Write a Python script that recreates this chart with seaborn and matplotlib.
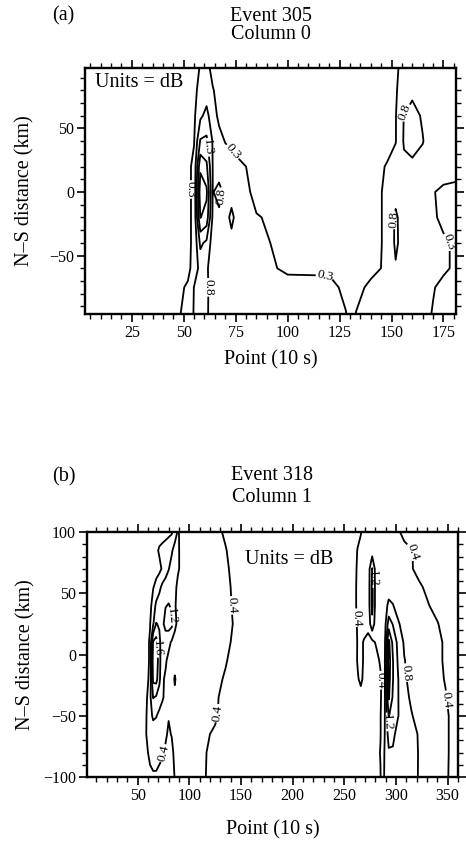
import numpy as np
import matplotlib
matplotlib.use("Agg")
import matplotlib.pyplot as plt
import seaborn as sns
from matplotlib.ticker import MultipleLocator

# ---------------- Panel (a): Event 305, Column 0 (values in dB) ----------------
x_a = [2.5, 45, 52, 55, 58, 61, 64, 67, 70, 73, 76, 85, 100, 120, 128, 130.5,
       133, 140, 148, 152, 156, 160, 165, 170, 175, 181]
y_a = [97.5, 80, 60, 40, 20, 0, -20, -40, -60, -75, -96]
z_a = [
    [0.05, 0.10, 0.15, 0.20, 0.32, 0.40, 0.20, 0.15, 0.12, 0.10, 0.10, 0.10, 0.10, 0.10, 0.10, 0.10, 0.10, 0.15, 0.20, 0.27, 0.36, 0.45, 0.50, 0.50, 0.45, 0.45],
    [0.05, 0.10, 0.15, 0.22, 0.40, 0.55, 0.32, 0.20, 0.15, 0.10, 0.10, 0.10, 0.10, 0.10, 0.10, 0.10, 0.10, 0.15, 0.22, 0.28, 0.40, 0.70, 0.62, 0.50, 0.45, 0.45],
    [0.05, 0.10, 0.15, 0.22, 0.70, 0.95, 0.50, 0.20, 0.15, 0.12, 0.10, 0.10, 0.10, 0.10, 0.10, 0.10, 0.10, 0.12, 0.20, 0.28, 0.82, 0.95, 0.75, 0.55, 0.50, 0.45],
    [0.05, 0.10, 0.20, 0.28, 1.35, 1.40, 0.75, 0.45, 0.28, 0.20, 0.15, 0.12, 0.10, 0.10, 0.10, 0.10, 0.10, 0.15, 0.22, 0.28, 0.85, 0.95, 0.82, 0.55, 0.50, 0.45],
    [0.05, 0.10, 0.20, 0.40, 2.20, 1.90, 0.78, 0.60, 0.55, 0.50, 0.38, 0.20, 0.10, 0.10, 0.10, 0.10, 0.12, 0.20, 0.32, 0.50, 0.70, 0.72, 0.65, 0.55, 0.50, 0.45],
    [0.05, 0.10, 0.20, 0.40, 2.60, 2.40, 0.78, 0.92, 0.70, 0.60, 0.50, 0.20, 0.10, 0.10, 0.12, 0.12, 0.12, 0.20, 0.35, 0.60, 0.60, 0.55, 0.45, 0.32, 0.22, 0.20],
    [0.05, 0.10, 0.20, 0.40, 2.32, 2.10, 0.70, 0.72, 0.60, 0.92, 0.60, 0.32, 0.20, 0.10, 0.12, 0.12, 0.12, 0.20, 0.35, 0.90, 0.50, 0.50, 0.45, 0.35, 0.22, 0.20],
    [0.05, 0.10, 0.20, 0.40, 1.40, 1.20, 0.55, 0.50, 0.50, 0.65, 0.55, 0.38, 0.20, 0.12, 0.12, 0.12, 0.12, 0.20, 0.35, 0.90, 0.55, 0.50, 0.45, 0.40, 0.35, 0.25],
    [0.05, 0.10, 0.20, 0.45, 1.00, 0.90, 0.45, 0.40, 0.40, 0.40, 0.40, 0.40, 0.25, 0.25, 0.20, 0.15, 0.15, 0.22, 0.35, 0.75, 0.50, 0.45, 0.45, 0.40, 0.35, 0.25],
    [0.05, 0.15, 0.35, 0.82, 0.95, 0.90, 0.55, 0.50, 0.45, 0.45, 0.45, 0.45, 0.40, 0.38, 0.24, 0.20, 0.22, 0.36, 0.40, 0.50, 0.45, 0.42, 0.40, 0.32, 0.22, 0.20],
    [0.05, 0.20, 0.40, 0.85, 0.95, 0.90, 0.50, 0.45, 0.45, 0.45, 0.45, 0.45, 0.42, 0.40, 0.31, 0.22, 0.31, 0.40, 0.42, 0.45, 0.45, 0.42, 0.40, 0.28, 0.20, 0.20],
]
levels_a = [0.3, 0.8, 1.3, 1.8, 2.3]

# ---------------- Panel (b): Event 318, Column 1 (values in dB) ----------------
x_b = [1, 50, 58, 62, 65, 68, 71, 74, 77, 80, 83, 86, 89, 95, 110, 125, 135, 145,
       200, 255, 260, 263, 266, 269, 273, 277, 281, 285, 289, 293, 297, 302, 308,
       315, 322, 330, 340, 348, 356, 360]
y_b = [100, 85, 70, 55, 40, 25, 10, -5, -20, -35, -50, -65, -80, -100]
z_b = [
    [0.10, 0.15, 0.15, 0.15, 0.20, 0.20, 0.22, 0.25, 0.28, 0.32, 0.35, 0.60, 0.85, 0.55, 0.55, 0.50, 0.35, 0.20, 0.15, 0.20,
     0.25, 0.30, 0.38, 0.50, 0.55, 0.55, 0.55, 0.55, 0.55, 0.55, 0.50, 0.45, 0.30, 0.20, 0.15, 0.15, 0.12, 0.12, 0.12, 0.12],
    [0.10, 0.15, 0.15, 0.20, 0.25, 0.32, 0.45, 0.50, 0.55, 0.60, 0.75, 0.95, 0.85, 0.60, 0.55, 0.50, 0.42, 0.25, 0.15, 0.20,
     0.30, 0.42, 0.50, 0.55, 0.55, 0.60, 0.55, 0.55, 0.55, 0.55, 0.55, 0.55, 0.50, 0.42, 0.30, 0.20, 0.15, 0.12, 0.12, 0.12],
    [0.10, 0.15, 0.20, 0.20, 0.25, 0.28, 0.30, 0.45, 0.60, 0.78, 0.95, 1.00, 0.85, 0.60, 0.55, 0.50, 0.45, 0.30, 0.15, 0.20,
     0.32, 0.45, 0.50, 0.55, 0.55, 1.22, 0.55, 0.55, 0.55, 0.55, 0.55, 0.55, 0.52, 0.42, 0.32, 0.22, 0.15, 0.12, 0.12, 0.12],
    [0.10, 0.15, 0.22, 0.30, 0.38, 0.50, 0.70, 0.90, 1.00, 1.05, 1.00, 0.90, 0.70, 0.58, 0.55, 0.50, 0.48, 0.32, 0.15, 0.22,
     0.35, 0.45, 0.50, 0.55, 0.55, 1.30, 0.55, 0.55, 0.55, 0.60, 0.60, 0.58, 0.55, 0.50, 0.45, 0.35, 0.22, 0.15, 0.12, 0.12],
    [0.10, 0.15, 0.22, 0.30, 0.55, 0.90, 1.00, 1.10, 1.18, 1.22, 1.15, 0.85, 0.65, 0.58, 0.55, 0.52, 0.50, 0.33, 0.15, 0.22,
     0.35, 0.45, 0.50, 0.55, 0.55, 1.30, 0.55, 0.55, 0.60, 0.90, 0.82, 0.65, 0.60, 0.55, 0.50, 0.43, 0.30, 0.20, 0.15, 0.15],
    [0.10, 0.15, 0.25, 0.38, 0.75, 1.22, 1.15, 1.10, 1.35, 1.38, 1.30, 0.90, 0.70, 0.60, 0.55, 0.55, 0.52, 0.35, 0.15, 0.22,
     0.35, 0.42, 0.50, 0.50, 0.50, 1.10, 0.50, 0.50, 0.60, 1.40, 1.18, 0.85, 0.65, 0.60, 0.55, 0.50, 0.42, 0.28, 0.18, 0.15],
    [0.10, 0.15, 0.25, 0.45, 1.65, 1.75, 1.30, 0.95, 0.95, 0.90, 0.75, 0.65, 0.60, 0.58, 0.55, 0.55, 0.50, 0.30, 0.15, 0.20,
     0.30, 0.42, 0.45, 0.38, 0.30, 0.30, 0.45, 0.50, 0.65, 2.10, 1.50, 1.10, 0.75, 0.60, 0.55, 0.50, 0.48, 0.35, 0.20, 0.18],
    [0.10, 0.15, 0.25, 0.45, 1.80, 1.90, 1.35, 0.90, 0.85, 0.70, 0.60, 0.60, 0.58, 0.56, 0.55, 0.50, 0.43, 0.25, 0.15, 0.20,
     0.32, 0.42, 0.45, 0.38, 0.25, 0.22, 0.28, 0.45, 0.70, 2.20, 1.62, 1.15, 0.82, 0.65, 0.55, 0.50, 0.48, 0.35, 0.20, 0.18],
    [0.10, 0.15, 0.25, 0.50, 1.70, 1.75, 1.30, 0.85, 0.75, 0.60, 0.60, 0.85, 0.60, 0.55, 0.55, 0.50, 0.36, 0.20, 0.15, 0.20,
     0.30, 0.38, 0.45, 0.35, 0.20, 0.18, 0.20, 0.35, 0.70, 2.15, 1.62, 1.22, 0.85, 0.70, 0.60, 0.52, 0.48, 0.38, 0.22, 0.20],
    [0.10, 0.15, 0.28, 0.70, 1.22, 1.15, 1.00, 0.85, 0.70, 0.60, 0.60, 0.70, 0.55, 0.55, 0.55, 0.45, 0.30, 0.20, 0.15, 0.18,
     0.22, 0.28, 0.32, 0.28, 0.20, 0.18, 0.20, 0.35, 0.70, 2.05, 1.55, 1.22, 0.90, 0.75, 0.62, 0.55, 0.50, 0.42, 0.25, 0.20],
    [0.10, 0.15, 0.35, 0.70, 0.85, 0.82, 0.70, 0.60, 0.50, 0.42, 0.45, 0.55, 0.55, 0.55, 0.55, 0.45, 0.25, 0.15, 0.15, 0.18,
     0.20, 0.22, 0.25, 0.25, 0.20, 0.18, 0.22, 0.38, 0.75, 1.62, 1.45, 1.22, 0.95, 0.82, 0.70, 0.60, 0.52, 0.45, 0.32, 0.25],
    [0.10, 0.15, 0.38, 0.60, 0.65, 0.62, 0.55, 0.50, 0.45, 0.35, 0.42, 0.50, 0.55, 0.55, 0.50, 0.35, 0.25, 0.15, 0.15, 0.18,
     0.20, 0.20, 0.22, 0.22, 0.20, 0.20, 0.22, 0.38, 0.78, 1.35, 1.30, 1.05, 0.95, 0.90, 0.78, 0.62, 0.52, 0.45, 0.32, 0.25],
    [0.10, 0.15, 0.30, 0.50, 0.55, 0.55, 0.50, 0.45, 0.35, 0.20, 0.30, 0.50, 0.55, 0.55, 0.48, 0.30, 0.20, 0.15, 0.15, 0.18,
     0.20, 0.20, 0.22, 0.22, 0.20, 0.20, 0.25, 0.42, 0.82, 1.15, 1.15, 1.00, 0.95, 0.90, 0.79, 0.62, 0.52, 0.45, 0.32, 0.25],
    [0.10, 0.15, 0.20, 0.30, 0.35, 0.35, 0.30, 0.25, 0.20, 0.20, 0.25, 0.42, 0.50, 0.55, 0.50, 0.25, 0.20, 0.15, 0.15, 0.18,
     0.20, 0.20, 0.22, 0.22, 0.20, 0.22, 0.25, 0.38, 0.85, 1.10, 1.10, 1.00, 0.95, 0.88, 0.79, 0.60, 0.50, 0.45, 0.30, 0.25],
]
levels_b = [0.4, 0.8, 1.2, 1.6, 2.0]

# ---------------- style ----------------
sns.set_theme(style="ticks")
plt.rcParams['font.family'] = ['Liberation Serif', 'DejaVu Serif']
plt.rcParams['axes.unicode_minus'] = True

TXT = 14.5
TICK = 11.5
CLAB = 9.5
LW = 1.3

fig = plt.figure(figsize=(4.66, 8.41), dpi=100)
fig.patch.set_facecolor('white')
axa = fig.add_axes([0.1824, 0.6266, 0.796, 0.2925])
axb = fig.add_axes([0.1867, 0.0761, 0.796, 0.2913])


def style_axes(ax, xlim, ylim, xmaj, xmin, ymaj, ymin, xlab_y, ylab_x):
    ax.set_facecolor('white')
    ax.set_xlim(*xlim)
    ax.set_ylim(*ylim)
    ax.xaxis.set_major_locator(MultipleLocator(xmaj))
    ax.xaxis.set_minor_locator(MultipleLocator(xmin))
    ax.yaxis.set_major_locator(MultipleLocator(ymaj))
    ax.yaxis.set_minor_locator(MultipleLocator(ymin))
    ax.tick_params(which='both', direction='out', top=True, right=True,
                   labeltop=False, labelright=False, color='black',
                   labelcolor='black', labelsize=TICK)
    ax.tick_params(which='major', length=6, width=1.2, pad=2)
    ax.tick_params(which='minor', length=3.5, width=1.0)
    for s in ax.spines.values():
        s.set_linewidth(1.7)
        s.set_color('black')
    ax.set_xlabel("Point (10 s)", fontsize=TXT, color='black')
    ax.set_ylabel("N\u2013S distance (km)", fontsize=TXT, color='black')
    ax.xaxis.set_label_coords(0.5, xlab_y)
    ax.yaxis.set_label_coords(ylab_x, 0.5)
    ax.grid(False)


def draw_level(ax, x, y, z, level, label_at):
    """One contour level; labels placed near the given points (if any)."""
    cs = ax.contour(x, y, z, levels=[level], colors='black', linewidths=LW)
    if label_at:
        ax.clabel(cs, inline=True, inline_spacing=1, fmt='%.1f',
                  fontsize=CLAB, manual=label_at)
    return cs


# ---- panel (a)
xa = np.array(x_a)
ya = np.array(y_a)[::-1]
za = np.array(z_a)[::-1]
label_pos_a = {
    0.3: [(54, 2), (73, 31), (118, -64), (177, -40)],
    0.8: [(62, -75), (67, -3), (157, 62), (152, -22)],
    1.3: [(61, 35)],
}
for lev in levels_a:
    draw_level(axa, xa, ya, za, lev, label_pos_a.get(lev))
style_axes(axa, (2.5, 181), (-96, 97.5), 25, 5, 50, 10, -0.146, -0.135)
axa.text(0.027, 0.943, "Units = dB", transform=axa.transAxes, ha='left', va='center',
         fontsize=TXT, color='black')
axa.text(0.5, 1.211, "Event 305", transform=axa.transAxes, ha='center', va='center',
         fontsize=TXT, color='black')
axa.text(0.5, 1.136, "Column 0", transform=axa.transAxes, ha='center', va='center',
         fontsize=TXT, color='black')
fig.text(0.112, 0.981, "(a)", ha='left', va='center', fontsize=TXT, color='black')

# ---- panel (b)
xb = np.array(x_b)
yb = np.array(y_b)[::-1]
zb = np.array(z_b)[::-1]
label_pos_b = {
    0.4: [(72, -80), (138, 40), (128, -48), (262, 30), (284, -21), (316, 84), (349, -37)],
    0.8: [(307, -15)],
    1.2: [(81, 31), (277, 62), (292, -55)],
    1.6: [(67, 5)],
}
for lev in levels_b:
    draw_level(axb, xb, yb, zb, lev, label_pos_b.get(lev))
style_axes(axb, (1, 360), (-100, 100), 50, 10, 50, 10, -0.1755, -0.140)
axb.text(0.426, 0.886, "Units = dB", transform=axb.transAxes, ha='left', va='center',
         fontsize=TXT, color='black')
axb.text(0.5, 1.229, "Event 318", transform=axb.transAxes, ha='center', va='center',
         fontsize=TXT, color='black')
axb.text(0.5, 1.141, "Column 1", transform=axb.transAxes, ha='center', va='center',
         fontsize=TXT, color='black')
fig.text(0.112, 0.433, "(b)", ha='left', va='center', fontsize=TXT, color='black')

fig.savefig("out.png", dpi=100, facecolor='white')
